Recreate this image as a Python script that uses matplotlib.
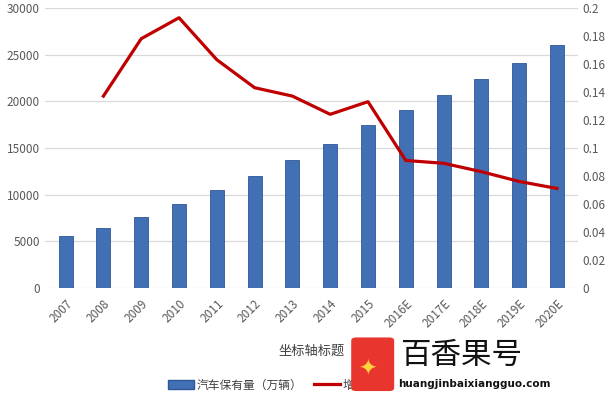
import numpy as np
import matplotlib.pyplot as plt
from matplotlib.patches import FancyBboxPatch
from matplotlib.lines import Line2D
from matplotlib.patches import Patch

plt.rcParams['font.family'] = ['Noto Sans CJK SC', 'DejaVu Sans']

years = ['2007', '2008', '2009', '2010', '2011', '2012', '2013', '2014', '2015',
         '2016E', '2017E', '2018E', '2019E', '2020E']
stock = [5600, 6400, 7600, 9000, 10500, 12000, 13700, 15400, 17400,
         19100, 20700, 22400, 24100, 26000]
growth = [np.nan, 0.137, 0.178, 0.193, 0.163, 0.143, 0.137, 0.124, 0.133,
          0.091, 0.089, 0.083, 0.076, 0.071]

bar_color = '#4270B5'
line_color = '#C00000'
tick_color = '#595959'

fig = plt.figure(figsize=(6.14, 3.97), dpi=100)
ax = fig.add_axes([0.073, 0.275, 0.868, 0.705])
x = np.arange(len(years))
ax.bar(x, stock, width=0.37, color=bar_color, edgecolor='#2F5597', linewidth=0.6, zorder=2)
ax.set_ylim(0, 30000)
ax.set_xlim(-0.55, len(years) - 0.45)
ax.set_yticks(range(0, 30001, 5000))
ax.grid(axis='y', color='#D9D9D9', linewidth=0.9, zorder=0)
for s in ax.spines.values():
    s.set_visible(False)
ax.tick_params(axis='both', length=0, colors=tick_color, labelsize=8.5)
ax.set_xticks(x)
ax.set_xticklabels(years, rotation=45, ha='right', rotation_mode='anchor')
ax.tick_params(axis='x', pad=7)
ax.set_xlabel('坐标轴标题', fontsize=9.5, color='#404040', labelpad=10)

ax2 = ax.twinx()
ax2.plot(x, growth, color=line_color, linewidth=2.3, zorder=3)
ax2.set_ylim(0, 0.2)
ax2.set_yticks(np.arange(0, 0.2001, 0.02))
ax2.set_yticklabels(['0', '0.02', '0.04', '0.06', '0.08', '0.1', '0.12',
                     '0.14', '0.16', '0.18', '0.2'])
for s in ax2.spines.values():
    s.set_visible(False)
ax2.tick_params(axis='y', length=0, colors=tick_color, labelsize=8.5)

handles = [Patch(facecolor=bar_color, edgecolor='#2F5597'),
           Line2D([0], [0], color=line_color, linewidth=2.3)]
fig.legend(handles, ['汽车保有量（万辆）', '增速'], loc='center left',
           bbox_to_anchor=(0.257, 0.03), ncol=2, frameon=False, fontsize=8.5,
           handlelength=2.2, handleheight=0.7, columnspacing=1.0,
           handletextpad=0.2, labelcolor='#404040')

# watermark
logo = FancyBboxPatch((0.572, 0.015), 0.07, 0.135, boxstyle='round,pad=0,rounding_size=0.008',
                      transform=fig.transFigure, facecolor='#E8352E', edgecolor='none', zorder=10)
fig.patches.append(logo)
fig.text(0.598, 0.07, '✦', color='#FFD23F', fontsize=16, ha='center', va='center',
         family=['DejaVu Sans'], zorder=11)
fig.text(0.652, 0.105, '百香果号', fontsize=22, color='#111111', ha='left', va='center', zorder=11)
fig.text(0.649, 0.032, 'huangjinbaixiangguo.com', fontsize=7.5, color='#111111',
         fontweight='bold', ha='left', va='center', family=['DejaVu Sans'], zorder=11)

fig.savefig('out.png', dpi=100)
